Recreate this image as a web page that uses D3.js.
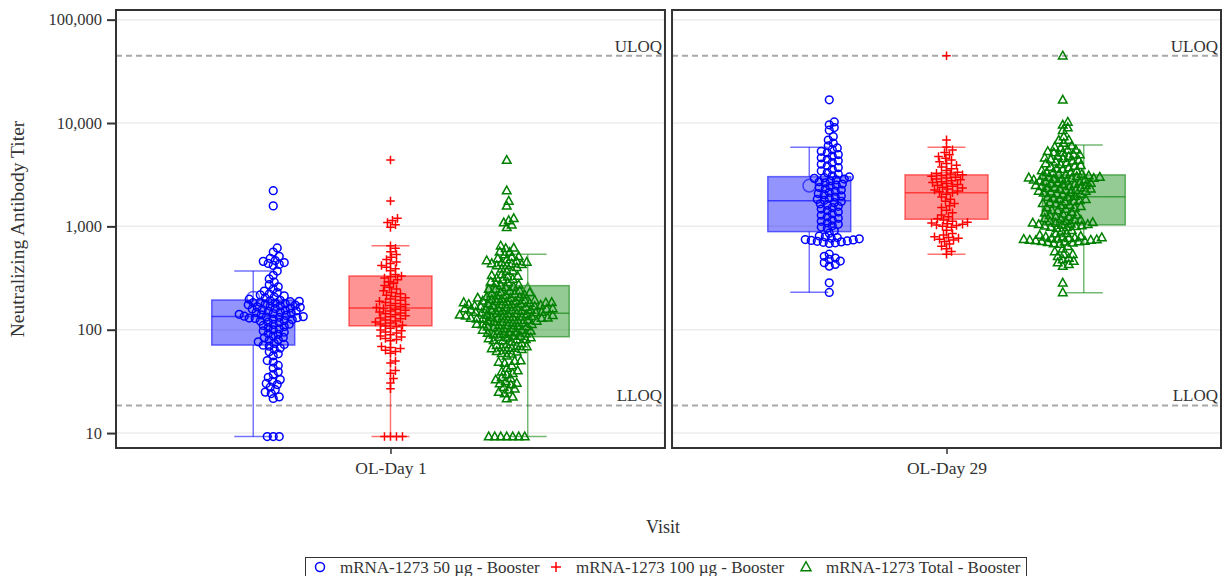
<!DOCTYPE html>
<html>
<head>
<meta charset="utf-8">
<script src="https://cdn.jsdelivr.net/npm/d3@7"></script>
<style>
  body { margin: 0; background: #fff; }
  svg { display: block; }
</style>
</head>
<body>
<svg id="chart" width="1225" height="576"></svg>
<script>
// ---- data ----
const visits = ['OL-Day 1', 'OL-Day 29'];
const groups = ['mRNA-1273 50 µg - Booster', 'mRNA-1273 100 µg - Booster', 'mRNA-1273 Total - Booster'];
const colors = ['#0000ff', '#ff0000', '#008000'];
const yTicks = [10, 100, 1000, 10000, 100000];
const limits = [44760, 18.5];
const limitLabels = ['ULOQ', 'LLOQ'];

// box statistics, [visit][group]
const boxLow = [[9.25, 9.25, 9.25], [230, 537, 228]];
const boxQ1 = [[71, 109, 85.5], [889, 1172, 1032]];
const boxMedian = [[134, 162, 144], [1774, 2120, 1937]];
const boxQ3 = [[194, 331, 267], [3027, 3150, 3150]];
const boxHigh = [[370, 650, 537], [5835, 5835, 6140]];
const boxMean = [[204, 288, 242], [2477, 3310, 2850]];

// individual titers
const blueDay1 = [
  9.25, 9.25, 9.25,
  21.6, 22.4, 24.1, 24.9, 26.3, 27.8, 29.5, 30.2, 31.7, 32.9, 34.6, 36.8, 39.2, 42.5,
  45.1, 48.7, 50.3, 55.9, 58.4, 61.2, 64.7,
  66.5, 69.3, 70.8, 72.0, 73.6,
  76.4, 78.9, 80.2, 83.5, 84.1, 86.7, 90.3, 91.8, 94.6, 97.2, 99.5, 102.1, 104.8, 107.3, 109.9,
  112.4, 113.0, 116.8, 118.5, 121.2, 122.7, 125.3, 126.9, 128.4, 129.7, 130.6, 131.8, 132.5, 133.9, 135.2,
  137.6, 139.1, 140.8, 143.5, 144.2, 146.9, 148.3, 150.7, 152.1, 154.8, 156.3, 158.9, 160.4, 162.2,
  164.7, 166.1, 168.8, 170.5, 172.9, 174.3, 176.6, 178.2, 180.9, 182.4, 184.0, 186.7, 188.5, 190.3, 192.8,
  197.4, 203.1, 206.8, 212.5, 217.3, 221.9, 228.6, 236.2, 247.5, 259.8, 272.4, 288.1, 309.6, 336.2, 369.5,
  418.3, 428.7, 437.9, 446.2, 458.5, 467.1, 489.3, 512.6, 563.4, 618.9, 1578, 2216,
];
const redDay1 = [
  9.25, 9.25, 9.25, 9.25,
  26.8, 30.5, 33.7, 37.9, 40.2, 47.6, 49.8,
  59.3, 61.7, 63.4, 65.9, 67.2, 68.8,
  78.4, 80.6, 82.3, 84.9, 87.1, 89.5, 92.8, 95.3, 97.6, 99.4,
  103.2, 106.8, 108.5, 110.7, 113.4, 116.2, 118.9, 121.5, 124.3, 127.8, 130.1, 133.6, 136.4, 139.2,
  142.7, 145.5, 148.1, 151.6, 154.3, 157.9, 160.2,
  163.8, 167.4, 171.2, 175.6, 179.3, 183.7, 188.2, 192.6, 197.9, 203.4, 209.1, 215.8, 222.3, 229.7,
  238.4, 247.2, 256.9, 268.3, 279.6, 291.4, 304.8, 316.5, 325.1, 330.7,
  342.6, 371.8, 389.2, 402.5, 418.7, 436.1, 452.3, 478.6, 503.9, 534.2, 568.7, 612.4, 648.9,
  978.3, 1036, 1087, 1142, 1195, 1762, 4380,
];
const blueDay29 = [
  229.6, 284.1,
  412.5, 428.9, 445.7, 461.3, 478.2, 493.6, 512.8, 538.4,
  684, 693, 701, 708, 716, 722, 731, 739, 746, 758, 767, 779, 791, 806,
  858, 906, 958, 985, 1012, 1047, 1083, 1118,
  1152, 1196, 1238, 1281, 1327, 1374, 1420, 1469, 1515, 1562, 1608, 1651, 1697, 1742, 1786,
  1826, 1874, 1921, 1968, 2023, 2079, 2134, 2192, 2248, 2310, 2372, 2439, 2503, 2568, 2631,
  2697, 2762, 2824, 2869, 2913, 2958, 3004,
  3085, 3196, 3312, 3437, 3568, 3702, 3844, 3991, 4147, 4306,
  4452, 4610, 4783, 4957, 5139, 5326, 5518, 5741, 6012, 6385, 6842, 7390,
  8520, 9035, 9610, 10240, 16760,
];
const redDay29 = [
  537, 571, 608, 642, 676,
  712, 738, 752, 769, 781, 794, 823, 851, 917, 978,
  1004, 1018, 1031, 1047, 1062, 1078, 1094, 1121, 1153, 1182, 1238, 1291,
  1356, 1432, 1519, 1587, 1668, 1749, 1831, 1922, 2041,
  2112, 2158, 2203, 2251, 2296, 2347, 2394, 2441, 2493, 2548, 2597, 2651, 2706, 2762, 2819, 2874,
  2932, 2991, 3047, 3102, 3156, 3211, 3268,
  3342, 3478, 3619, 3756, 3903, 4058, 4217, 4382, 4561, 4743, 4938, 5172, 5496, 5871,
  6863, 44760,
];
// total = both dose groups pooled
const points = [
  [blueDay1, redDay1, blueDay1.concat(redDay1)],
  [blueDay29, redDay29, blueDay29.concat(redDay29)],
];

// ---- layout ----
const font = 'Liberation Serif, Times New Roman, serif';
const plot = { left: 116, right: 1221, top: 10, bottom: 448 };
const boxWidth = 83;
const capWidth = 38;
const swarmShift = [20, 0, -21];

const svg = d3.select('#chart');

const panel = d3.scaleBand()
  .domain(visits)
  .range([plot.left, plot.right])
  .paddingInner(0.0127);

const xGroup = d3.scalePoint()
  .domain(groups)
  .range([0, panel.bandwidth()])
  .padding(1);

const y = d3.scaleLog()
  .domain([7.17, 124000])
  .range([plot.bottom, plot.top]);

// marker shapes
function drawMarker(sel, gi, size) {
  const s = size;
  if (gi === 0) {
    sel.append('circle').attr('r', s * 0.9);
  } else if (gi === 1) {
    sel.append('path').attr('d', `M${-s},0H${s}M0,${-s}V${s}`);
  } else {
    sel.append('path').attr('d', `M0,${-s * 1.05}L${s},${s * 0.75}L${-s},${s * 0.75}Z`);
  }
}

// simple beeswarm so markers don't pile up
function swarm(values, cx, minDist) {
  const pts = values.map((v) => ({ v, y: y(v) })).sort((a, b) => b.y - a.y);
  const placed = [];
  pts.forEach((p) => {
    let k = 0;
    for (;;) {
      const off = k === 0 ? 0 : (k % 2 ? 1 : -1) * Math.ceil(k / 2);
      const x = cx + off;
      const hit = placed.some((q) => Math.abs(q.y - p.y) < minDist && Math.hypot(q.x - x, q.y - p.y) < minDist);
      if (!hit) { p.x = x; break; }
      k += 1;
    }
    placed.push(p);
  });
  return pts;
}

visits.forEach((visit, vi) => {
  const x0 = panel(visit);
  const w = panel.bandwidth();
  const g = svg.append('g');

  // gridlines
  g.selectAll('.grid')
    .data(yTicks)
    .enter()
    .append('line')
    .attr('x1', x0)
    .attr('x2', x0 + w)
    .attr('y1', (d) => y(d))
    .attr('y2', (d) => y(d))
    .attr('stroke', '#ececec')
    .attr('stroke-width', 1.5);

  // ULOQ / LLOQ
  g.selectAll('.lim')
    .data(limits)
    .enter()
    .append('line')
    .attr('x1', x0)
    .attr('x2', x0 + w)
    .attr('y1', (d) => y(d))
    .attr('y2', (d) => y(d))
    .attr('stroke', '#a8a8a8')
    .attr('stroke-width', 2)
    .attr('stroke-dasharray', '6,4');

  g.selectAll('.limtext')
    .data(limits)
    .enter()
    .append('text')
    .attr('x', x0 + w - 3)
    .attr('y', (d) => y(d) - 4)
    .attr('text-anchor', 'end')
    .attr('font-family', font)
    .attr('font-size', 17)
    .attr('fill', '#333')
    .text((d, i) => limitLabels[i]);

  // boxes
  groups.forEach((grp, gi) => {
    const cx = x0 + xGroup(grp);
    const c = colors[gi];
    const bg = g.append('g');
    bg.append('line')
      .attr('x1', cx).attr('x2', cx)
      .attr('y1', y(boxLow[vi][gi])).attr('y2', y(boxQ1[vi][gi]))
      .attr('stroke', c).attr('stroke-opacity', 0.55).attr('stroke-width', 1.5);
    bg.append('line')
      .attr('x1', cx).attr('x2', cx)
      .attr('y1', y(boxQ3[vi][gi])).attr('y2', y(boxHigh[vi][gi]))
      .attr('stroke', c).attr('stroke-opacity', 0.55).attr('stroke-width', 1.5);
    [boxLow[vi][gi], boxHigh[vi][gi]].forEach((v) => {
      bg.append('line')
        .attr('x1', cx - capWidth / 2).attr('x2', cx + capWidth / 2)
        .attr('y1', y(v)).attr('y2', y(v))
        .attr('stroke', c).attr('stroke-opacity', 0.55).attr('stroke-width', 1.5);
    });
    bg.append('rect')
      .attr('x', cx - boxWidth / 2)
      .attr('width', boxWidth)
      .attr('y', y(boxQ3[vi][gi]))
      .attr('height', y(boxQ1[vi][gi]) - y(boxQ3[vi][gi]))
      .attr('fill', c)
      .attr('fill-opacity', 0.42)
      .attr('stroke', c)
      .attr('stroke-opacity', 0.55)
      .attr('stroke-width', 1.5);
    bg.append('line')
      .attr('x1', cx - boxWidth / 2).attr('x2', cx + boxWidth / 2)
      .attr('y1', y(boxMedian[vi][gi])).attr('y2', y(boxMedian[vi][gi]))
      .attr('stroke', c).attr('stroke-opacity', 0.6).attr('stroke-width', 1.5);
    const mean = bg.append('g')
      .attr('transform', `translate(${cx},${y(boxMean[vi][gi])})`)
      .attr('fill', 'none')
      .attr('stroke', c)
      .attr('stroke-opacity', 0.6)
      .attr('stroke-width', 1.5);
    drawMarker(mean, gi, 7);
  });

  // individual points
  groups.forEach((grp, gi) => {
    const cx = x0 + xGroup(grp) + swarmShift[gi];
    const pts = swarm(points[vi][gi], cx, 5.3);
    const mg = g.append('g')
      .attr('fill', 'none')
      .attr('stroke', colors[gi])
      .attr('stroke-width', 1.5);
    pts.forEach((p) => {
      const m = mg.append('g').attr('transform', `translate(${p.x},${p.y})`);
      drawMarker(m, gi, 4.3);
    });
  });

  // panel frame
  g.append('rect')
    .attr('x', x0)
    .attr('y', plot.top)
    .attr('width', w)
    .attr('height', plot.bottom - plot.top)
    .attr('fill', 'none')
    .attr('stroke', '#333')
    .attr('stroke-width', 2);

  // category axis
  const xAxis = d3.axisBottom(d3.scalePoint().domain([visit]).range([x0, x0 + w]).padding(0.5))
    .tickSize(6)
    .tickPadding(8);
  const ax = svg.append('g')
    .attr('transform', `translate(0,${plot.bottom})`)
    .call(xAxis);
  ax.select('.domain').remove();
  ax.selectAll('line').attr('stroke', '#333').attr('stroke-width', 1.5);
  ax.selectAll('text')
    .attr('font-family', font)
    .attr('font-size', 17.5)
    .attr('fill', '#333');
});

// y axis
const yAxis = d3.axisLeft(y)
  .tickValues(yTicks)
  .tickFormat(d3.format(','))
  .tickSize(9)
  .tickPadding(5);
const ay = svg.append('g')
  .attr('transform', `translate(${plot.left},0)`)
  .call(yAxis);
ay.select('.domain').remove();
ay.selectAll('line').attr('stroke', '#333').attr('stroke-width', 2);
ay.selectAll('text')
  .attr('font-family', font)
  .attr('font-size', 16.5)
  .attr('fill', '#333');

svg.append('text')
  .attr('transform', `translate(24,${(plot.top + plot.bottom) / 2}) rotate(-90)`)
  .attr('text-anchor', 'middle')
  .attr('font-family', font)
  .attr('font-size', 19.5)
  .attr('fill', '#333')
  .text('Neutralizing Antibody Titer');

svg.append('text')
  .attr('x', 663)
  .attr('y', 533)
  .attr('text-anchor', 'middle')
  .attr('font-family', font)
  .attr('font-size', 18)
  .attr('fill', '#333')
  .text('Visit');

// legend
const legend = svg.append('g');
legend.append('rect')
  .attr('x', 305.5)
  .attr('y', 557.5)
  .attr('width', 721)
  .attr('height', 19)
  .attr('fill', 'none')
  .attr('stroke', '#333')
  .attr('stroke-width', 1);
const legendX = [320, 556, 806];
groups.forEach((grp, gi) => {
  const m = legend.append('g')
    .attr('transform', `translate(${legendX[gi]},567)`)
    .attr('fill', 'none')
    .attr('stroke', colors[gi])
    .attr('stroke-width', 1.5);
  drawMarker(m, gi, 5);
  legend.append('text')
    .attr('x', legendX[gi] + 20)
    .attr('y', 572.5)
    .attr('font-family', font)
    .attr('font-size', 17)
    .attr('fill', '#333')
    .text(grp);
});
</script>
</body>
</html>
